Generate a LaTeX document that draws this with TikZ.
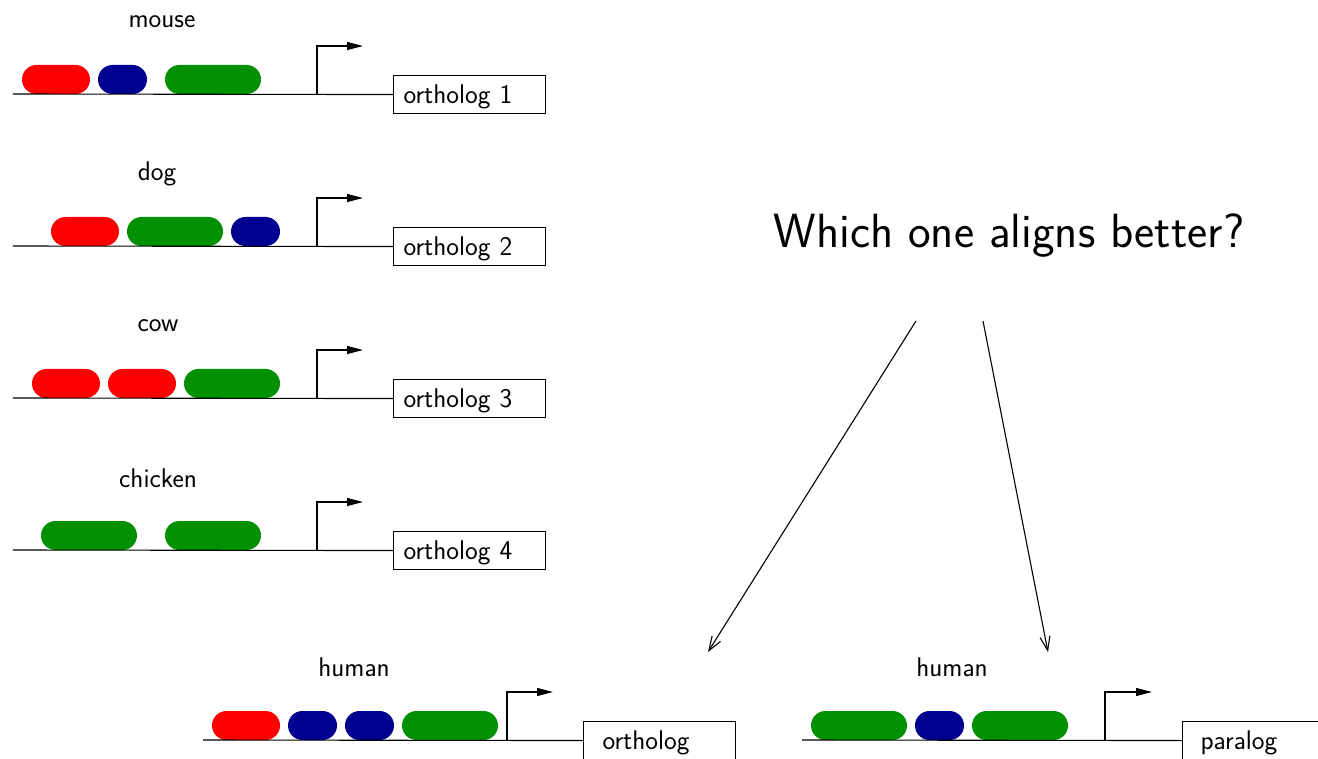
\documentclass[tikz,border=0pt]{standalone}
\usetikzlibrary{arrows.meta}
\definecolor{gred}{RGB}{255,0,0}
\definecolor{gblue}{RGB}{0,0,144}
\definecolor{ggreen}{RGB}{0,144,0}
\tikzset{
  dna/.style={line width=1.1pt},
  blob/.style={rounded corners=14.5pt},
  prom/.style={line width=1.1pt,-{Triangle[length=16pt,width=8pt]}},
  gbox/.style={draw,line width=1.1pt,anchor=north west,minimum height=38pt,text height=19pt,text depth=1pt,text width=132pt,inner xsep=10pt,align=left,font=\fontsize{27}{32}\selectfont\sffamily},
  species/.style={font=\fontsize{27}{32}\selectfont\sffamily},
  big/.style={font=\fontsize{48}{56}\selectfont\sffamily},
  choice/.style={line width=1.1pt,-{Straight Barb[length=14pt,width=10pt]}}
}
\begin{document}
\begin{tikzpicture}[x=1pt,y=-1pt]
\useasboundingbox (0,0) rectangle (1318,759);
\clip (0,0) rectangle (1318,759);
% mouse
\node[species] (lmouse) at (162,22) {mouse};
\fill[gred,blob] (22,65) rectangle (90,94);
\fill[gblue,blob] (98,65) rectangle (147,94);
\fill[ggreen,blob] (165,65) rectangle (261,94);
\node[gbox] (b1) at (393,75) {ortholog 1};
\coordinate (s1) at (13,94);
\coordinate (p1) at (317,94);
\coordinate (t1) at (317,46);
\coordinate (h1) at (363,46);
\draw[dna] (s1) -- (b1.west);
\draw[prom] (p1) -- (t1) -- (h1);
% dog
\node[species] (ldog) at (157,174) {dog};
\fill[gred,blob] (51,217) rectangle (119,246);
\fill[ggreen,blob] (127,217) rectangle (223,246);
\fill[gblue,blob] (231,217) rectangle (280,246);
\node[gbox] (b2) at (393,227) {ortholog 2};
\coordinate (s2) at (13,246);
\coordinate (p2) at (317,246);
\coordinate (t2) at (317,198);
\coordinate (h2) at (363,198);
\draw[dna] (s2) -- (b2.west);
\draw[prom] (p2) -- (t2) -- (h2);
% cow
\node[species] (lcow) at (158,326) {cow};
\fill[gred,blob] (32,369) rectangle (100,398);
\fill[gred,blob] (108,369) rectangle (176,398);
\fill[ggreen,blob] (184,369) rectangle (280,398);
\node[gbox] (b3) at (393,379) {ortholog 3};
\coordinate (s3) at (13,398);
\coordinate (p3) at (317,398);
\coordinate (t3) at (317,350);
\coordinate (h3) at (363,350);
\draw[dna] (s3) -- (b3.west);
\draw[prom] (p3) -- (t3) -- (h3);
% chicken
\node[species] (lchicken) at (158,478) {chicken};
\fill[ggreen,blob] (41,521) rectangle (137,550);
\fill[ggreen,blob] (165,521) rectangle (261,550);
\node[gbox] (b4) at (393,531) {ortholog 4};
\coordinate (s4) at (13,550);
\coordinate (p4) at (317,550);
\coordinate (t4) at (317,502);
\coordinate (h4) at (363,502);
\draw[dna] (s4) -- (b4.west);
\draw[prom] (p4) -- (t4) -- (h4);
% human ortholog
\node[species] (lh1) at (354,667) {human};
\fill[gred,blob] (212,711) rectangle (280,740);
\fill[gblue,blob] (288,711) rectangle (337,740);
\fill[gblue,blob] (345,711) rectangle (394,740);
\fill[ggreen,blob] (402,711) rectangle (498,740);
\node[gbox] (bo) at (583,721) {\hspace*{9pt}ortholog};
\coordinate (s5) at (203,740);
\coordinate (p5) at (507,740);
\coordinate (t5) at (507,692);
\coordinate (h5) at (553,692);
\draw[dna] (s5) -- (bo.west);
\draw[prom] (p5) -- (t5) -- (h5);
% human paralog
\node[species] (lh2) at (952,667) {human};
\fill[ggreen,blob] (811,711) rectangle (907,740);
\fill[gblue,blob] (915,711) rectangle (964,740);
\fill[ggreen,blob] (972,711) rectangle (1068,740);
\node[gbox] (bp) at (1182,721) {\hspace*{8pt}paralog};
\coordinate (s6) at (802,740);
\coordinate (p6) at (1105,740);
\coordinate (t6) at (1105,692);
\coordinate (h6) at (1152,692);
\draw[dna] (s6) -- (bp.west);
\draw[prom] (p6) -- (t6) -- (h6);
% question
\node[big] (q) at (1009,236) {Which one aligns better?};
\coordinate (qa) at (916,321);
\coordinate (qb) at (983,321);
\coordinate (ea) at (708,652);
\coordinate (eb) at (1048,652);
\draw[choice] (qa) -- (ea);
\draw[choice] (qb) -- (eb);
\end{tikzpicture}
\end{document}
